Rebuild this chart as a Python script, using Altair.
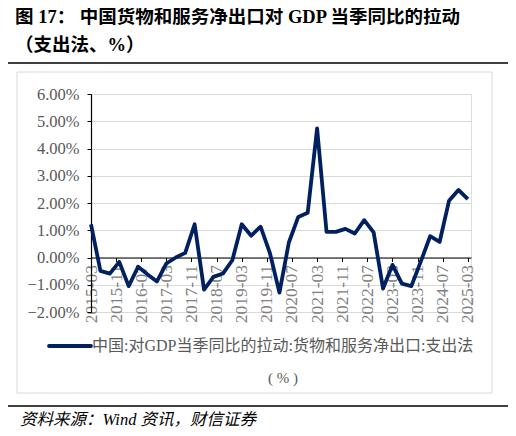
import altair as alt
import pandas as pd

dates = ["2015-03","2015-06","2015-09","2015-12","2016-03","2016-06","2016-09","2016-12",
         "2017-03","2017-06","2017-09","2017-12","2018-03","2018-06","2018-09","2018-12",
         "2019-03","2019-06","2019-09","2019-12","2020-03","2020-06","2020-09","2020-12",
         "2021-03","2021-06","2021-09","2021-12","2022-03","2022-06","2022-09","2022-12",
         "2023-03","2023-06","2023-09","2023-12","2024-03","2024-06","2024-09","2024-12",
         "2025-03"]
values = [1.22,-0.49,-0.59,-0.16,-1.05,-0.34,-0.62,-0.88,
          -0.22,0.00,0.17,1.22,-1.18,-0.71,-0.59,-0.10,
          1.22,0.80,1.13,0.15,-1.29,0.55,1.49,1.64,
          4.74,0.94,0.94,1.05,0.88,1.37,0.92,-1.14,
          -0.27,-0.96,-1.05,-0.15,0.78,0.57,2.08,2.48,
          2.14]
tick_labels = ["2015-03","2015-11","2016-07","2017-03","2017-11","2018-07","2019-03","2019-11",
               "2020-07","2021-03","2021-11","2022-07","2023-03","2023-11","2024-07","2025-03"]
y_ticks = [-2,-1,0,1,2,3,4,5,6]

series_name = "中国:对GDP当季同比的拉动:货物和服务净出口:支出法"
title1 = "图 17： 中国货物和服务净出口对 GDP 当季同比的拉动"
title2 = "（支出法、%）"
unit_text = "( % )"
source = "资料来源：Wind 资讯，财信证券"

def month_index(s):
    y, m = s.split("-")
    return (int(y) - 2015) * 12 + int(m) - 3

df = pd.DataFrame({"m": [month_index(d) for d in dates], "v": values, "s": series_name})
tick_vals = [month_index(t) for t in tick_labels]
label_map = "{" + ",".join(f"'{k}':'{t}'" for k, t in zip(tick_vals, tick_labels)) + "}"

W, H = 380, 218
SERIF = "Liberation Serif, Noto Sans CJK SC"
NAVY = "#002060"

x_enc = alt.X("m:Q", scale=alt.Scale(domain=[0, 121], nice=False, zero=False),
              axis=alt.Axis(values=tick_vals, labelExpr=f"{label_map}[datum.value]",
                            offset=-54.5, domainColor="black", domainWidth=1.2,
                            tickColor="black", tickSize=4, labelAngle=270,
                            labelAlign="right", labelBaseline="middle", labelPadding=3,
                            labelFont=SERIF, labelFontSize=17.5, labelColor="#808080",
                            grid=False, title=None, labelOverlap=False))
y_enc = alt.Y("v:Q", scale=alt.Scale(domain=[-2, 6], nice=False),
              axis=alt.Axis(values=y_ticks, labelExpr="format(datum.value, '.2f') + '%'",
                            domainColor="black", domainWidth=1.2, tickColor="black",
                            tickSize=4, labelPadding=8, labelFont=SERIF, labelFontSize=16.5,
                            labelColor="#595959", gridColor="#d9d9d9", gridWidth=1,
                            title=None))

line = alt.Chart(df).mark_line(color=NAVY, strokeWidth=3.8, strokeJoin="round").encode(x=x_enc, y=y_enc)

one = pd.DataFrame({"a": [0]})

def txt(t, x, y, size, color="black", font=SERIF, weight="normal", style="normal", align="left"):
    return alt.Chart(one).mark_text(text=t, fontSize=size, color=color, font=font,
                                     fontWeight=weight, fontStyle=style, align=align,
                                     baseline="middle").encode(x=alt.value(x), y=alt.value(y))

def hline(x1, x2, y, color, width):
    return alt.Chart(one).mark_rule(color=color, strokeWidth=width).encode(
        x=alt.value(x1), x2=alt.value(x2), y=alt.value(y))

frame = alt.Chart(one).mark_rect(fillOpacity=0, stroke="#d9d9d9", strokeWidth=1).encode(
    x=alt.value(-74), x2=alt.value(401), y=alt.value(-22), y2=alt.value(299))

legend_line = alt.Chart(one).mark_rule(color=NAVY, strokeWidth=3.8, strokeCap="round").encode(
    x=alt.value(-42), x2=alt.value(0), y=alt.value(252))

layers = [
    frame,
    line,
    txt(title1, -76, -77, 18.5, weight="bold"),
    txt(title2, -76, -49, 18.5, weight="bold"),
    hline(-85, 420, -31, "black", 1.5),
    legend_line,
    txt(series_name, 1, 252, 16, color="#595959"),
    txt(unit_text, 192, 284, 15, color="#595959", align="center"),
    hline(-85, 420, 312, "black", 1.5),
    txt(source, -71, 326, 16.5, style="italic"),
]

chart = alt.layer(*layers).properties(
    width=W, height=H,
    autosize=alt.AutoSizeParams(type="none"),
    padding={"left": 83, "top": 86, "right": 37, "bottom": 116},
).configure_view(stroke=None).configure(background="white")

chart.save("out.html", embed_options={"renderer": "svg", "actions": False})
